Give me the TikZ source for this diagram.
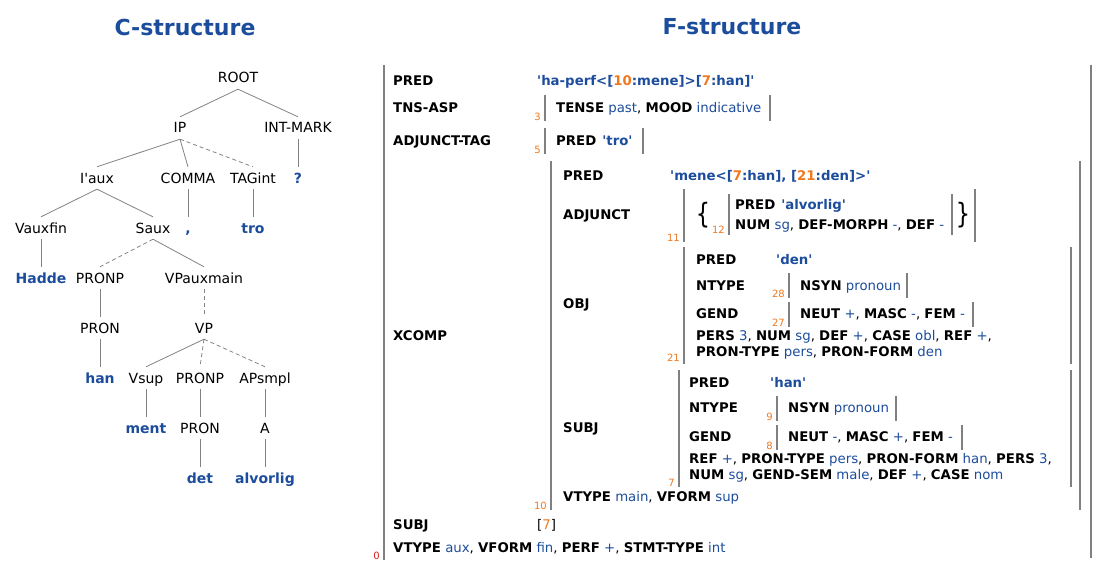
\documentclass[tikz,border=0pt]{standalone}
\usepackage{fontspec}
\setmainfont{DejaVu Sans}
\usepackage{tikz}
\usetikzlibrary{positioning}
\definecolor{lvblue}{RGB}{28,76,156}
\definecolor{fsorange}{RGB}{240,120,30}
\definecolor{fsred}{RGB}{215,30,30}
\definecolor{treegray}{RGB}{130,130,130}
\definecolor{bargray}{RGB}{128,128,128}
\newcommand{\fsA}[1]{\textbf{#1}}
\newcommand{\fsV}[1]{\textcolor{lvblue}{#1}}
\newcommand{\fsI}[1]{\textcolor{fsorange}{#1}}
\newcommand{\sq}{\textquotesingle}
\newcommand{\fsbar}[3]{\draw[bar] (#1,#2) -- (#1,#3);}

\begin{document}
\begin{tikzpicture}[x=1pt, y=-1pt,
    title/.style={font=\fontsize{22}{26}\selectfont\bfseries, text=lvblue},
    cat/.style={font=\fontsize{14}{16}\selectfont, inner xsep=1pt, inner ysep=6pt, text height=10pt, text depth=0pt},
    word/.style={cat, font=\fontsize{14}{16}\selectfont\bfseries, text=lvblue},
    edge/.style={draw=treegray, line width=0.8pt},
    dedge/.style={edge, dash pattern=on 4pt off 3pt},
    fs/.style={anchor=west, inner sep=0pt, font=\fontsize{13.3}{15}\selectfont, text height=9.5pt, text depth=0pt},
    fsidx/.style={anchor=south east, inner sep=0pt, font=\fontsize{10}{12}\selectfont, text=fsorange},
    brace/.style={inner sep=0pt, font=\fontsize{28}{30}\selectfont\addfontfeature{FakeStretch=0.8}},
    bar/.style={draw=bargray, line width=1.8pt}]
    \useasboundingbox (0,0) rectangle (1107,572);

    \node [title] (ctitle) at (185,27) {C-structure};
    \node [title] (ftitle) at (732,27) {F-structure};

    % c-structure
    \node [cat] (root) at (238,78) {ROOT};
    \node [cat] (ip) at (180,128) {IP};
    \node [cat] (intmark) at (298,128) {INT-MARK};
    \node [cat] (iaux) at (97,178) {I\sq aux};
    \node [cat] (comma) at (188,178) {COMMA};
    \node [cat] (tagint) at (253,178) {TAGint};
    \node [word] (qmark) at (298,178) {?};
    \node [cat] (vauxfin) at (41,228) {Vauxfin};
    \node [cat] (saux) at (153,228) {Saux};
    \node [word] (commaw) at (188,228) {,};
    \node [word] (tro) at (253,228) {tro};
    \node [word] (hadde) at (41,278) {Hadde};
    \node [cat] (pronpa) at (100,278) {PRONP};
    \node [cat] (vpauxmain) at (204,278) {VPauxmain};
    \node [cat] (prona) at (100,328) {PRON};
    \node [cat] (vp) at (204,328) {VP};
    \node [word] (han) at (100,378) {han};
    \node [cat] (vsup) at (146,378) {Vsup};
    \node [cat] (pronpb) at (200,378) {PRONP};
    \node [cat] (apsmpl) at (265,378) {APsmpl};
    \node [word] (ment) at (146,428) {ment};
    \node [cat] (pronb) at (200,428) {PRON};
    \node [cat] (adja) at (265,428) {A};
    \node [word] (det) at (200,478) {det};
    \node [word] (alvorlig) at (265,478) {alvorlig};

    \draw [edge] (root.south) -- (ip.north);
    \draw [edge] (root.south) -- (intmark.north);
    \draw [edge] (ip.south) -- (iaux.north);
    \draw [edge] (ip.south) -- (comma.north);
    \draw [dedge] (ip.south) -- (tagint.north);
    \draw [edge] (intmark.south) -- (qmark.north);
    \draw [edge] (iaux.south) -- (vauxfin.north);
    \draw [edge] (iaux.south) -- (saux.north);
    \draw [edge] (comma.south) -- (commaw.north);
    \draw [edge] (tagint.south) -- (tro.north);
    \draw [edge] (vauxfin.south) -- (hadde.north);
    \draw [dedge] (saux.south) -- (pronpa.north);
    \draw [edge] (saux.south) -- (vpauxmain.north);
    \draw [edge] (pronpa.south) -- (prona.north);
    \draw [dedge] (vpauxmain.south) -- (vp.north);
    \draw [edge] (prona.south) -- (han.north);
    \draw [edge] (vp.south) -- (vsup.north);
    \draw [dedge] (vp.south) -- (pronpb.north);
    \draw [dedge] (vp.south) -- (apsmpl.north);
    \draw [edge] (vsup.south) -- (ment.north);
    \draw [edge] (pronpb.south) -- (pronb.north);
    \draw [edge] (apsmpl.south) -- (adja.north);
    \draw [edge] (pronb.south) -- (det.north);
    \draw [edge] (adja.south) -- (alvorlig.north);

    % f-structure
    \fsbar{384}{65}{560} \fsbar{1091}{65}{558}
    \node [fsidx, text=fsred] (i0) at (380,560) {0};
    \node [fs] (pred) at (393,81) {\fsA{PRED}};
    \node [fs] (predv) at (537,81) {\fsV{\bfseries\sq ha-perf<[\fsI{10}:mene]>[\fsI{7}:han]\sq}};

    \node [fs] (tnsasp) at (393,108) {\fsA{TNS-ASP}};
    \fsbar{545}{95}{121} \fsbar{770}{95}{121}
    \node [fsidx] (i3) at (541,121) {3};
    \node [fs] (tnsaspv) at (556,108) {\fsA{TENSE} \fsV{past}, \fsA{MOOD} \fsV{indicative}};

    \node [fs] (adjtag) at (393,141) {\fsA{ADJUNCT-TAG}};
    \fsbar{545}{128}{154} \fsbar{643}{128}{154}
    \node [fsidx] (i5) at (541,154) {5};
    \node [fs] (adjtagv) at (556,141) {\fsA{PRED}\hspace{6pt}\fsV{\bfseries\sq tro\sq}};

    \node [fs] (xcomp) at (393,336) {\fsA{XCOMP}};
    \fsbar{551}{161}{510} \fsbar{1080}{161}{510}
    \node [fsidx] (i10) at (547,510) {10};
    \node [fs] (xpred) at (563,176) {\fsA{PRED}};
    \node [fs] (xpredv) at (670,176) {\fsV{\bfseries\sq mene<[\fsI{7}:han], [\fsI{21}:den]>\sq}};

    \node [fs] (xadj) at (563,215) {\fsA{ADJUNCT}};
    \fsbar{684}{189}{242} \fsbar{975}{189}{242}
    \node [fsidx] (i11) at (680,242) {11};
    \node [brace] (lbrace) at (703,215) {\{};
    \node [fsidx] (i12) at (725,234) {12};
    \fsbar{729}{194}{235} \fsbar{952}{194}{235}
    \node [fs] (alpred) at (735,205) {\fsA{PRED}\hspace{6pt}\fsV{\bfseries\sq alvorlig\sq}};
    \node [fs] (alrest) at (735,225) {\fsA{NUM} \fsV{sg}, \fsA{DEF-MORPH} \fsV{-}, \fsA{DEF} \fsV{-}};
    \node [brace] (rbrace) at (963,215) {\}};

    \node [fs] (xobj) at (563,304) {\fsA{OBJ}};
    \fsbar{684}{247}{364} \fsbar{1071}{247}{364}
    \node [fsidx] (i21) at (680,362) {21};
    \node [fs] (opred) at (696,260) {\fsA{PRED}};
    \node [fs] (opredv) at (776,260) {\fsV{\bfseries\sq den\sq}};
    \node [fs] (ontype) at (696,286) {\fsA{NTYPE}};
    \fsbar{789}{273}{298} \fsbar{907}{273}{298}
    \node [fsidx] (i28) at (785,298) {28};
    \node [fs] (ontypev) at (800,286) {\fsA{NSYN} \fsV{pronoun}};
    \node [fs] (ogend) at (696,314) {\fsA{GEND}};
    \fsbar{789}{302}{327} \fsbar{973}{302}{327}
    \node [fsidx] (i27) at (785,327) {27};
    \node [fs] (ogendv) at (800,314) {\fsA{NEUT} \fsV{+}, \fsA{MASC} \fsV{-}, \fsA{FEM} \fsV{-}};
    \node [fs] (orest1) at (696,336) {\fsA{PERS} \fsV{3}, \fsA{NUM} \fsV{sg}, \fsA{DEF} \fsV{+}, \fsA{CASE} \fsV{obl}, \fsA{REF} \fsV{+},};
    \node [fs] (orest2) at (696,352) {\fsA{PRON-TYPE} \fsV{pers}, \fsA{PRON-FORM} \fsV{den}};

    \node [fs] (xsubj) at (563,428) {\fsA{SUBJ}};
    \fsbar{679}{370}{487} \fsbar{1071}{370}{487}
    \node [fsidx] (i7) at (675,487) {7};
    \node [fs] (spred) at (689,383) {\fsA{PRED}};
    \node [fs] (spredv) at (770,383) {\fsV{\bfseries\sq han\sq}};
    \node [fs] (sntype) at (689,408) {\fsA{NTYPE}};
    \fsbar{777}{396}{421} \fsbar{896}{396}{421}
    \node [fsidx] (i9) at (773,421) {9};
    \node [fs] (sntypev) at (788,408) {\fsA{NSYN} \fsV{pronoun}};
    \node [fs] (sgend) at (689,437) {\fsA{GEND}};
    \fsbar{777}{425}{450} \fsbar{962}{425}{450}
    \node [fsidx] (i8) at (773,450) {8};
    \node [fs] (sgendv) at (788,437) {\fsA{NEUT} \fsV{-}, \fsA{MASC} \fsV{+}, \fsA{FEM} \fsV{-}};
    \node [fs] (srest1) at (689,459) {\fsA{REF} \fsV{+}, \fsA{PRON-TYPE} \fsV{pers}, \fsA{PRON-FORM} \fsV{han}, \fsA{PERS} \fsV{3},};
    \node [fs] (srest2) at (689,475) {\fsA{NUM} \fsV{sg}, \fsA{GEND-SEM} \fsV{male}, \fsA{DEF} \fsV{+}, \fsA{CASE} \fsV{nom}};
    \node [fs] (xrest) at (563,497) {\fsA{VTYPE} \fsV{main}, \fsA{VFORM} \fsV{sup}};

    \node [fs] (subj) at (393,525) {\fsA{SUBJ}};
    \node [fs] (subjv) at (537,525) {[\fsI{7}]};
    \node [fs] (rest) at (393,548) {\fsA{VTYPE} \fsV{aux}, \fsA{VFORM} \fsV{fin}, \fsA{PERF} \fsV{+}, \fsA{STMT-TYPE} \fsV{int}};
\end{tikzpicture}
\end{document}
